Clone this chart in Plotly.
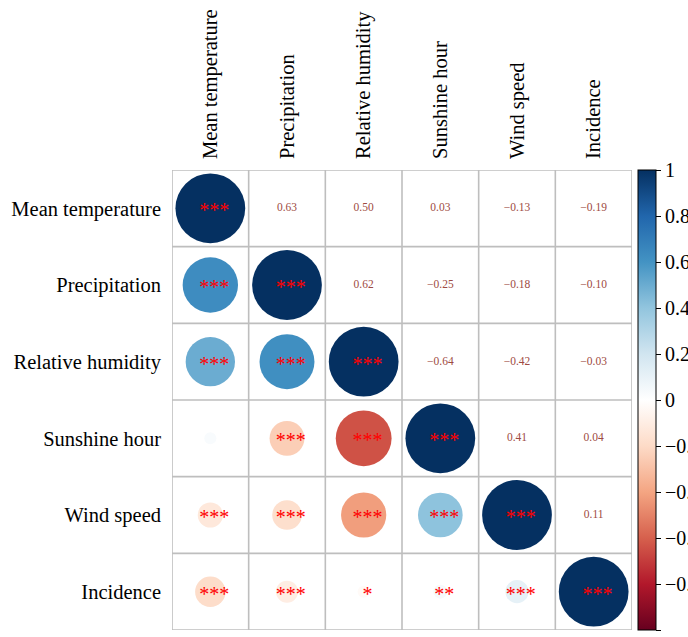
import plotly.graph_objects as go
import numpy as np

labels = ["Mean temperature", "Precipitation", "Relative humidity",
          "Sunshine hour", "Wind speed", "Incidence"]

# upper-triangle correlations, row by row (i<j)
upper_r = [
    [0.63, 0.50, 0.03, -0.13, -0.19],
    [0.62, -0.25, -0.18, -0.10],
    [-0.64, -0.42, -0.03],
    [0.41, 0.04],
    [0.11],
]

# significance stars for lower triangle + diagonal, row by row (j<=i)
stars_lower = [
    ["***"],
    ["***", "***"],
    ["***", "***", "***"],
    ["", "***", "***", "***"],
    ["***", "***", "***", "***", "***"],
    ["***", "***", "*", "**", "***", "***"],
]

cbar_vals = [1, 0.8, 0.6, 0.4, 0.2, 0, -0.2, -0.4, -0.6, -0.8, -1]
cbar_text = ["1", "0.8", "0.6", "0.4", "0.2", "0", "\u22120.2", "\u22120.4",
             "\u22120.6", "\u22120.8", "\u22121"]

n = len(labels)
R = np.eye(n)
for i, row in enumerate(upper_r):
    for k, v in enumerate(row):
        j = i + 1 + k
        R[i, j] = v
        R[j, i] = v

W, H = 688, 637
ml, mr, mt, mb = 172, 56, 170, 7
cell_px = (W - ml - mr) / n

cols = ["#67001F", "#B2182B", "#D6604D", "#F4A582", "#FDDBC7", "#FFFFFF",
        "#D1E5F0", "#92C5DE", "#4393C3", "#2166AC", "#053061"]
cscale = [[k / 10, c] for k, c in enumerate(cols)]

# circles (lower + diag)
cx, cy, cv, cs = [], [], [], []
for i in range(n):
    for j in range(i + 1):
        cx.append(j + 1)
        cy.append(i + 1)
        cv.append(R[i, j])
        cs.append(np.sqrt(abs(R[i, j])) * 0.91 * cell_px)

fig = go.Figure()
fig.add_trace(go.Scatter(
    x=cx, y=cy, mode="markers",
    marker=dict(size=cs, sizemode="diameter", color=cv, colorscale=cscale,
                cmin=-1, cmax=1, line=dict(width=0), opacity=1,
                colorbar=dict(
                    x=1.013, xanchor="left", xref="paper", xpad=0, ypad=0,
                    y=0.5, yanchor="middle", len=1, lenmode="fraction",
                    thickness=18, outlinewidth=1, outlinecolor="black",
                    tickmode="array", tickvals=cbar_vals, ticktext=cbar_text,
                    ticks="outside", ticklen=5, tickcolor="black",
                    tickfont=dict(family="Liberation Serif", size=20, color="black"),
                )),
    hoverinfo="skip", showlegend=False,
))

# stars
sx, sy, st = [], [], []
for i, row in enumerate(stars_lower):
    for j, s in enumerate(row):
        sx.append(j + 1 + 0.05)
        sy.append(i + 1 + 0.05)
        st.append(s)
fig.add_trace(go.Scatter(
    x=sx, y=sy, mode="text", text=st, textposition="middle center",
    textfont=dict(family="Liberation Serif", size=20, color="#FF0000"),
    hoverinfo="skip", showlegend=False,
))

# numbers upper
tx, ty, tt = [], [], []
for i in range(n):
    for j in range(i + 1, n):
        tx.append(j + 1)
        ty.append(i + 1)
        tt.append(f"{R[i, j]:.2f}".replace("-", "\u2212"))
fig.add_trace(go.Scatter(
    x=tx, y=ty, mode="text", text=tt, textposition="middle center",
    textfont=dict(family="Liberation Serif", size=11.5, color="#9E4A42"),
    hoverinfo="skip", showlegend=False,
))

# grid lines
for k in range(n + 1):
    p = k + 0.5
    fig.add_shape(type="line", x0=p, x1=p, y0=0.5, y1=n + 0.5,
                  line=dict(color="#BEBEBE", width=1.6), layer="below")
    fig.add_shape(type="line", y0=p, y1=p, x0=0.5, x1=n + 0.5,
                  line=dict(color="#BEBEBE", width=1.6), layer="below")

fig.update_layout(
    width=W, height=H,
    margin=dict(l=ml, r=mr, t=mt, b=mb, pad=0, autoexpand=False),
    paper_bgcolor="white", plot_bgcolor="white",
    font=dict(family="Liberation Serif", size=20.5, color="black"),
    xaxis=dict(range=[0.5, n + 0.5], side="top", tickmode="array",
               tickvals=list(range(1, n + 1)), ticktext=labels, tickangle=-90,
               showgrid=False, zeroline=False, showline=False, ticks="",
               ticklabelstandoff=10, fixedrange=True),
    yaxis=dict(range=[n + 0.5, 0.5], tickmode="array",
               tickvals=list(range(1, n + 1)), ticktext=labels,
               showgrid=False, zeroline=False, showline=False, ticks="",
               ticklabelstandoff=10, fixedrange=True),
)

fig.write_html("out.html")
